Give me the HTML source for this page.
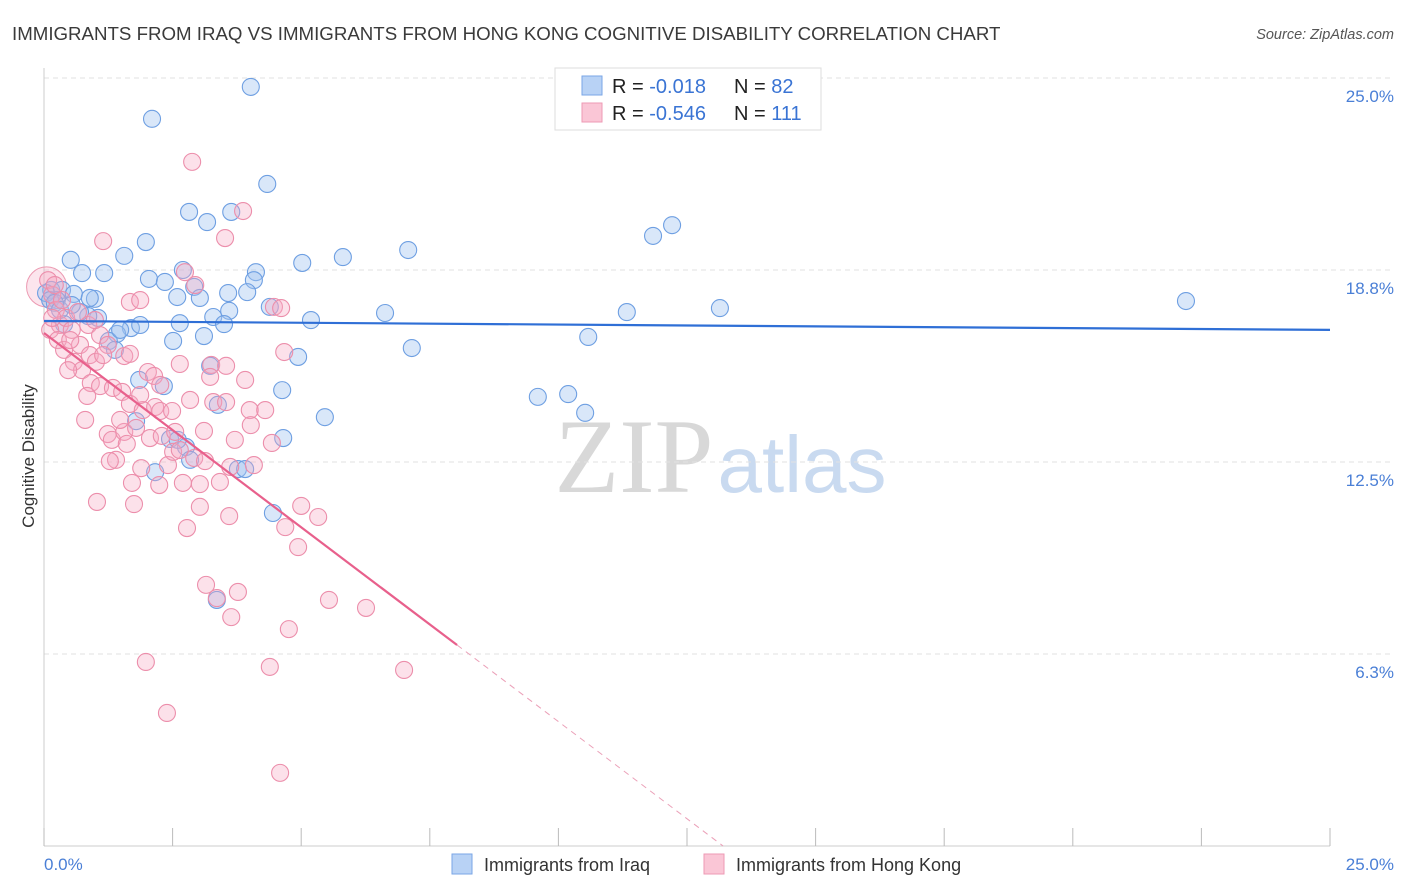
<!DOCTYPE html>
<html><head><meta charset="utf-8"><style>
body{margin:0;background:#fff;font-family:"Liberation Sans",sans-serif}
svg{display:block}
</style></head><body>
<svg id="chart" width="1406" height="892">
<text x="12" y="40" font-size="18.7" fill="#3a3a3a">IMMIGRANTS FROM IRAQ VS IMMIGRANTS FROM HONG KONG COGNITIVE DISABILITY CORRELATION CHART</text>
<text x="1394" y="39" font-size="14.5" fill="#555" font-style="italic" text-anchor="end">Source: ZipAtlas.com</text>
<g>
<text x="634" y="492" font-size="106" font-family="Liberation Serif,serif" fill="#d8d8d8" text-anchor="middle">ZIP</text>
<text x="802" y="492" font-size="80" fill="#c9daf0" text-anchor="middle">atlas</text>
</g>
<g id="grid"></g>
<g id="marks"></g>
<text transform="translate(34,456) rotate(-90)" font-size="17" fill="#333" text-anchor="middle">Cognitive Disability</text>
<text x="44" y="870" font-size="17" fill="#4a7fd6">0.0%</text>
<text x="1394" y="870" font-size="17" fill="#4a7fd6" text-anchor="end">25.0%</text>
<g>
<rect x="555" y="68" width="266" height="62" fill="#fff" stroke="#ddd"/>
<rect x="582" y="76" width="20" height="19" fill="#b8d2f5" stroke="#7aa6e6"/>
<rect x="582" y="103" width="20" height="19" fill="#fac6d6" stroke="#ee9ab4"/>
<text x="612" y="93" font-size="20" fill="#222">R = <tspan fill="#3a74d4">-0.018</tspan></text>
<text x="734" y="93" font-size="20" fill="#222">N = <tspan fill="#3a74d4">82</tspan></text>
<text x="612" y="120" font-size="20" fill="#222">R = <tspan fill="#3a74d4">-0.546</tspan></text>
<text x="734" y="120" font-size="20" fill="#222">N = <tspan fill="#3a74d4">111</tspan></text>
</g>
<g>
<rect x="452" y="854" width="20" height="20" fill="#b8d2f5" stroke="#7aa6e6"/>
<text x="484" y="871" font-size="18" fill="#333">Immigrants from Iraq</text>
<rect x="704" y="854" width="20" height="20" fill="#fac6d6" stroke="#ee9ab4"/>
<text x="736" y="871" font-size="18" fill="#333">Immigrants from Hong Kong</text>
</g>
</svg>
<script>
const yTicks=[6.25,12.5,18.75,25];
const yTickLabels=["6.3%","12.5%","18.8%","25.0%"];
const xTicks=[0,2.5,5,7.5,10,12.5,15,17.5,20,22.5,25];
const iraqX=[4.02,2.10,4.34,2.82,3.17,3.64,1.98,0.52,1.56,2.70,5.02,5.81,7.08,11.84,12.21,0.74,1.17,2.04,2.35,4.12,4.08,2.92,3.58,3.95,2.59,3.03,0.14,0.35,0.58,0.99,0.25,4.39,3.60,3.29,2.64,1.69,1.42,3.50,5.19,6.63,11.33,13.14,22.20,1.05,0.86,0.39,1.26,1.38,2.51,3.11,4.94,7.15,10.58,3.23,1.85,2.33,4.63,9.60,10.19,10.52,3.38,5.46,1.79,2.45,2.76,4.65,3.77,3.91,2.16,4.45,3.36,0.04,0.12,0.21,0.89,1.48,1.87,2.84,2.60,0.70,0.31,0.54];
const iraqY=[24.71,23.67,21.55,20.64,20.31,20.64,19.66,19.08,19.21,18.75,18.98,19.17,19.40,19.86,20.21,18.65,18.65,18.46,18.36,18.68,18.42,18.20,18.00,18.03,17.87,17.84,18.10,18.10,17.97,17.81,17.77,17.55,17.42,17.22,17.02,16.86,16.67,16.99,17.12,17.35,17.38,17.51,17.74,17.19,17.25,16.99,16.44,16.15,16.44,16.60,15.92,16.21,16.57,15.63,15.17,14.97,14.84,14.62,14.71,14.10,14.36,13.96,13.83,13.25,12.99,13.28,12.27,12.27,12.17,10.84,8.01,18.00,17.77,17.68,17.84,16.80,16.96,12.57,13.22,17.38,17.45,17.61];
const hkX=[2.88,3.87,3.52,1.15,2.74,2.94,1.67,1.87,4.47,4.61,0.08,0.16,0.23,0.31,0.43,0.12,0.27,0.39,0.54,0.70,0.86,1.09,1.24,0.89,1.01,0.58,0.74,0.47,1.15,1.56,1.67,2.02,2.14,2.64,3.25,3.54,3.23,4.67,0.91,1.09,1.34,0.84,1.52,1.67,1.92,2.16,2.26,2.49,3.29,3.54,4.00,0.80,1.24,1.32,1.56,1.79,2.06,2.29,2.55,3.11,4.02,4.43,1.40,1.28,1.61,1.89,2.41,2.51,2.92,3.13,3.62,4.08,1.71,2.24,2.70,3.03,3.42,1.03,1.75,3.03,3.60,5.00,5.33,2.78,4.69,4.94,3.15,3.77,3.36,5.54,6.26,3.64,4.76,7.00,1.98,4.39,2.39,4.59,0.21,0.35,0.51,0.66,0.99,1.87,2.26,2.84,1.48,3.71,4.30,3.91,2.64,0.16];
const hkY=[22.27,20.67,19.79,19.69,18.68,18.26,17.71,17.77,17.55,17.51,18.42,17.94,17.45,16.96,17.19,16.80,16.47,16.15,16.80,16.31,16.96,16.63,16.31,15.98,15.76,15.76,15.49,15.49,15.98,15.95,16.02,15.43,15.30,15.69,15.66,15.63,15.27,16.08,15.07,14.97,14.91,14.65,14.78,14.39,14.19,14.29,14.16,14.16,14.45,14.45,14.19,13.87,13.41,13.22,13.48,13.61,13.28,13.35,13.48,13.51,13.70,13.12,12.57,12.53,13.09,12.30,12.40,12.83,12.63,12.53,12.34,12.40,11.82,11.75,11.82,11.78,11.85,11.20,11.13,11.04,10.74,11.07,10.71,10.35,10.38,9.73,8.50,8.27,8.07,8.01,7.75,7.45,7.06,5.73,5.99,5.83,4.33,2.38,18.26,17.77,16.47,17.38,17.12,14.68,15.01,14.52,13.87,13.22,14.19,15.17,12.89,17.19];
const iraqTrend=[17.09,16.80];
const hkTrend=[16.70,-1.265];

const NS="http://www.w3.org/2000/svg";
const X0=44,X1=1330,Y0=846,Y1=78;
const sx=v=>X0+(v/25)*(X1-X0);
const sy=v=>Y0-(v/25)*(Y0-Y1);
function mk(tag,attrs,parent){const e=document.createElementNS(NS,tag);for(const k in attrs)e.setAttribute(k,attrs[k]);parent.appendChild(e);return e;}
const grid=document.getElementById('grid'),marks=document.getElementById('marks'),svg=document.getElementById('chart');
yTicks.forEach((t,i)=>{
  const l=mk('line',{x1:X0,x2:1394,y1:sy(t),y2:sy(t),stroke:'#e2e2e2','stroke-dasharray':'5,4'},grid);
  
  
  const tx=mk('text',{x:1394,y:sy(t)+24,'font-size':17,fill:'#4a7fd6','text-anchor':'end'},svg);
  tx.textContent=yTickLabels[i];
  
  
});
const ax=mk('line',{x1:X0,x2:X0,y1:68,y2:Y0,stroke:'#ccc'},grid);


const bx=mk('line',{x1:X0,x2:X1,y1:Y0,y2:Y0,stroke:'#ccc'},grid);


xTicks.forEach(t=>{
  const l=mk('line',{x1:sx(t),x2:sx(t),y1:828,y2:Y0,stroke:'#bbb'},grid);
  
  
});
const big1=mk('circle',{cx:sx(0.05),cy:sy(18.2),r:20,fill:'rgba(245,170,195,0.3)',stroke:'#ec9ab2'},marks);


iraqX.forEach((x,i)=>{
  const c=mk('circle',{cx:sx(x),cy:sy(iraqY[i]),r:8.5,fill:'rgba(160,195,240,0.4)',stroke:'#6e9fe2','stroke-width':1.1},marks);
  
  
});
hkX.forEach((x,i)=>{
  const c=mk('circle',{cx:sx(x),cy:sy(hkY[i]),r:8.5,fill:'rgba(245,170,195,0.35)',stroke:'#ec8eab','stroke-width':1.1},marks);
  
  
});
const bt=mk('line',{x1:sx(0),x2:sx(25),y1:sy(iraqTrend[0]),y2:sy(iraqTrend[1]),stroke:'#2f6fd6','stroke-width':2.2},marks);


const xs=8.03,xe=-hkTrend[0]/hkTrend[1];
const pt=mk('line',{x1:sx(0),x2:sx(xs),y1:sy(hkTrend[0]),y2:sy(hkTrend[0]+hkTrend[1]*xs),stroke:'#e8608c','stroke-width':2.2},marks);


const pd=mk('line',{x1:sx(xs),x2:sx(xe),y1:sy(hkTrend[0]+hkTrend[1]*xs),y2:sy(0),stroke:'#eba0b8','stroke-width':1,'stroke-dasharray':'6,5'},marks);


</script>
</body></html>
